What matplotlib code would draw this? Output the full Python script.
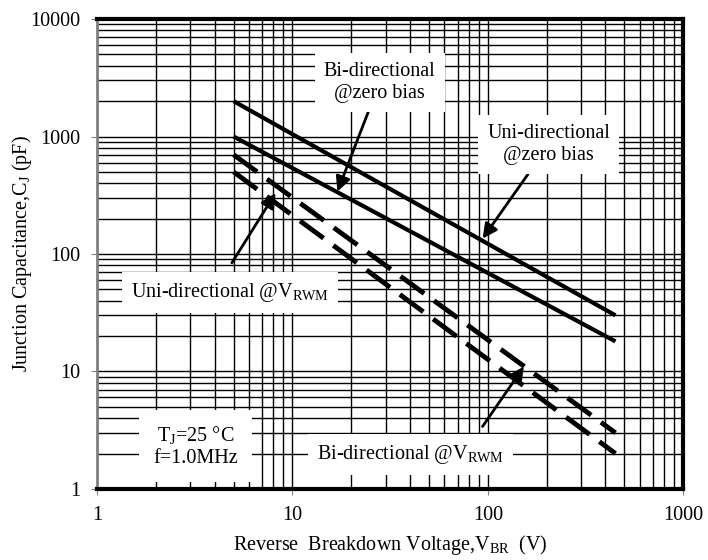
import numpy as np
import matplotlib
matplotlib.use("Agg")
import matplotlib.pyplot as plt

plt.rcParams["font.family"] = ["Liberation Serif", "DejaVu Serif"]
plt.rcParams["mathtext.fontset"] = "custom"
plt.rcParams["mathtext.rm"] = "Liberation Serif"
plt.rcParams["mathtext.it"] = "Liberation Serif:italic"

# breakdown voltage (V) at the ends of each curve
v_br = [5, 450]
# junction capacitance (pF)
uni_zero = [2000, 30]
bi_zero = [1000, 18]
uni_rwm = [700, 3]
bi_rwm = [500, 2]

x_ticks = [1, 10, 100, 1000]
y_ticks = [1, 10, 100, 1000, 10000]

fig = plt.figure(figsize=(7.08, 5.6), dpi=100)
ax = fig.add_axes([0.137, 0.127, 0.828, 0.839])
ax.set_xscale("log")
ax.set_yscale("log")
ax.set_xlim(1, 1000)
ax.set_ylim(1, 10000)

ax.grid(which="both", color="black", lw=1.0, zorder=0)
ax.set_axisbelow(True)

ax.plot(v_br, uni_zero, color="black", lw=3, zorder=4, solid_capstyle="butt")
ax.plot(v_br, bi_zero, color="black", lw=3, zorder=4, solid_capstyle="butt")
ax.plot(v_br, uni_rwm, color="black", lw=3.5, dashes=(6, 2.5), zorder=4)
ax.plot(v_br, bi_rwm, color="black", lw=3.5, dashes=(6, 2.5), zorder=4)

box = dict(boxstyle="square,pad=0.45", fc="white", ec="none")
arrow = dict(arrowstyle="-|>", color="black", lw=2, mutation_scale=22,
             shrinkA=0, shrinkB=0)
fs = 14.5

ax.annotate("Bi-directional\n@zero bias", xy=(17, 340), xytext=(28, 2900),
            ha="center", va="center", fontsize=fs, bbox=box,
            arrowprops=arrow, zorder=3)
ax.annotate("Uni-directional\n@zero bias", xy=(94, 135), xytext=(205, 850),
            ha="center", va="center", fontsize=fs, bbox=box,
            arrowprops=arrow, zorder=3)
ax.annotate(r"Uni-directional @V$_{\mathrm{RWM}}$", xy=(8.2, 330),
            xytext=(4.8, 47), ha="center", va="center", fontsize=fs,
            bbox=box, zorder=3)
ax.annotate("", xy=(8.2, 330), xytext=(4.9, 84), arrowprops=arrow, zorder=5)
ax.annotate(r"Bi-directional @V$_{\mathrm{RWM}}$", xy=(153, 11),
            xytext=(40, 1.95), ha="center", va="center", fontsize=fs,
            bbox=box, zorder=3)
ax.annotate("", xy=(153, 11), xytext=(94, 3.4), arrowprops=arrow, zorder=5)
ax.text(3.2, 2.3, "T$_{\\mathrm{J}}$=25 °C\nf=1.0MHz", ha="center", va="center",
        fontsize=fs, bbox=dict(boxstyle="square,pad=0.7", fc="white", ec="none"),
        zorder=3)

ax.set_xticks(x_ticks, [str(v) for v in x_ticks])
ax.set_yticks(y_ticks, [str(v) for v in y_ticks])
ax.tick_params(which="major", length=4, color="gray", labelsize=fs, pad=8)
ax.tick_params(which="minor", length=0)

for side in ["top", "bottom", "right"]:
    ax.spines[side].set_linewidth(3)
    ax.spines[side].set_color("black")
ax.spines["left"].set_linewidth(2)
ax.spines["left"].set_color("gray")

ax.set_xlabel(r"Reverse  Breakdown Voltage,V$_{\mathrm{BR}}$  (V)",
              fontsize=fs, labelpad=6)
ax.set_ylabel(r"Junction Capacitance,C$_{\mathrm{J}}$ (pF)", fontsize=fs)
ax.yaxis.set_label_coords(-0.108, 0.5)

fig.savefig("out.png", dpi=100)
